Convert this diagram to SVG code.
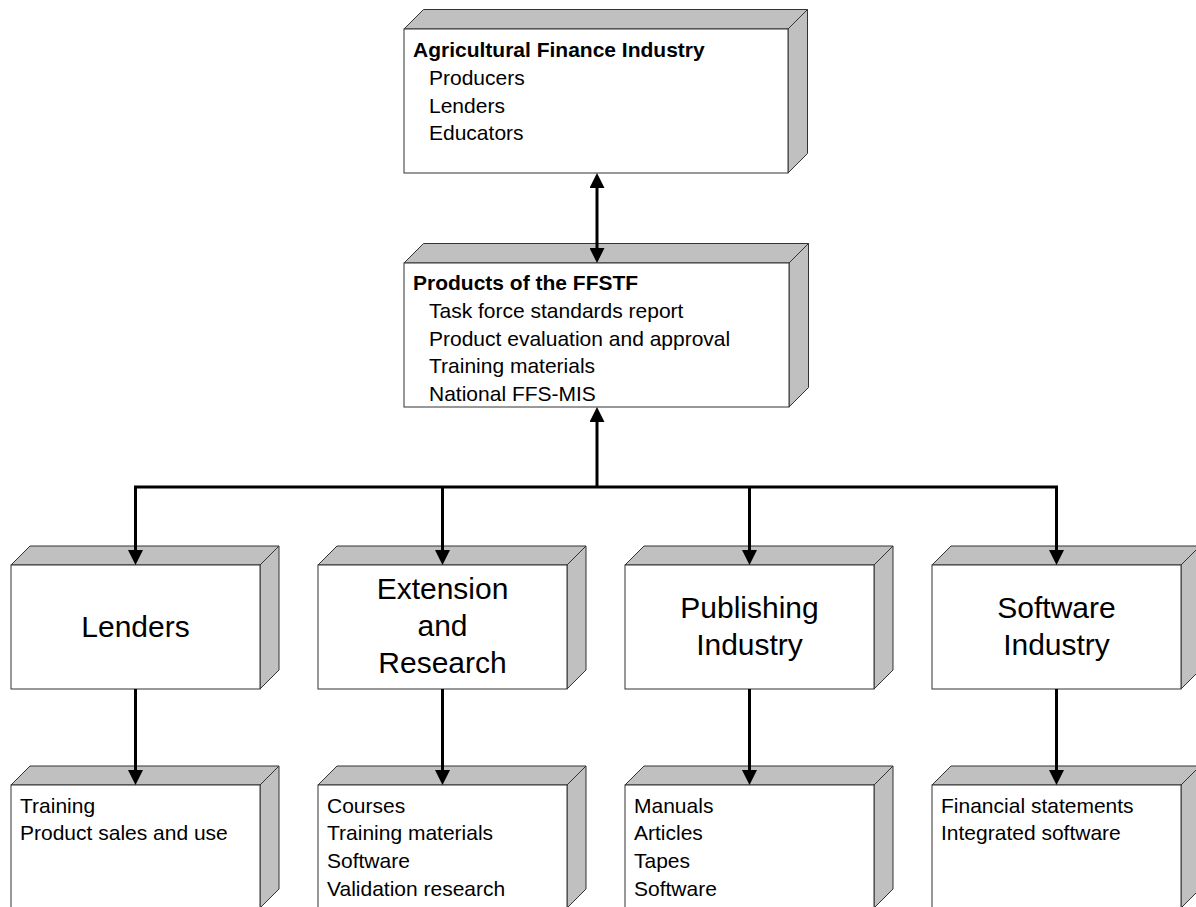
<svg xmlns="http://www.w3.org/2000/svg" width="1196" height="907" viewBox="0 0 1196 907">
<defs>
<style>
.face{fill:#ffffff;stroke:#333333;stroke-width:1}
.side{fill:#c0c0c0;stroke:#333333;stroke-width:1;stroke-linejoin:miter}
.t{font-family:"Liberation Sans",Arial,sans-serif;font-size:21px;fill:#000}
.b{font-weight:bold}
.big{font-family:"Liberation Sans",Arial,sans-serif;font-size:30px;fill:#000;text-anchor:middle}
.con{fill:none;stroke:#000;stroke-width:3}
</style>
<marker id="ah" viewBox="0 0 15 15" refX="5" refY="7.5" markerWidth="15" markerHeight="15" markerUnits="userSpaceOnUse" orient="auto-start-reverse">
<path d="M0,0 L15,7.5 L0,15 z" fill="#000"/>
</marker>
</defs>
<rect width="1196" height="907" fill="#fff"/>

<g id="agri">
<polygon class="side" points="404,29 423.5,9.5 807.5,9.5 788,29"/>
<polygon class="side" points="788,29 807.5,9.5 807.5,153.5 788,173"/>
<rect class="face" x="404" y="29" width="384" height="144"/>
<text class="t b" x="413" y="57">Agricultural Finance Industry</text>
<text class="t" x="429" y="85">Producers</text>
<text class="t" x="429" y="112.5">Lenders</text>
<text class="t" x="429" y="140">Educators</text>
</g>

<g id="ffstf">
<polygon class="side" points="404,263 423.5,243.5 808.5,243.5 789,263"/>
<polygon class="side" points="789,263 808.5,243.5 808.5,387.5 789,407"/>
<rect class="face" x="404" y="263" width="385" height="144"/>
<text class="t b" x="413" y="290">Products of the FFSTF</text>
<text class="t" x="429" y="318">Task force standards report</text>
<text class="t" x="429" y="346">Product evaluation and approval</text>
<text class="t" x="429" y="373">Training materials</text>
<text class="t" x="429" y="401">National FFS-MIS</text>
</g>

<g id="lenders">
<polygon class="side" points="11,565 30,546 279,546 260,565"/>
<polygon class="side" points="260,565 279,546 279,670 260,689"/>
<rect class="face" x="11" y="565" width="249" height="124"/>
<text class="big" x="135.5" y="637">Lenders</text>
</g>

<g id="extension">
<polygon class="side" points="318,565 337,546 586,546 567,565"/>
<polygon class="side" points="567,565 586,546 586,670 567,689"/>
<rect class="face" x="318" y="565" width="249" height="124"/>
<text class="big" x="442.5" y="599">Extension</text>
<text class="big" x="442.5" y="636">and</text>
<text class="big" x="442.5" y="673">Research</text>
</g>

<g id="publishing">
<polygon class="side" points="625,565 644,546 893,546 874,565"/>
<polygon class="side" points="874,565 893,546 893,670 874,689"/>
<rect class="face" x="625" y="565" width="249" height="124"/>
<text class="big" x="749.5" y="618">Publishing</text>
<text class="big" x="749.5" y="655">Industry</text>
</g>

<g id="software">
<polygon class="side" points="932,565 951,546 1200,546 1181,565"/>
<polygon class="side" points="1181,565 1200,546 1200,670 1181,689"/>
<rect class="face" x="932" y="565" width="249" height="124"/>
<text class="big" x="1056.5" y="618">Software</text>
<text class="big" x="1056.5" y="655">Industry</text>
</g>

<g id="lenders-out">
<polygon class="side" points="11,785 30,766 279,766 260,785"/>
<polygon class="side" points="260,785 279,766 279,889 260,908"/>
<rect class="face" x="11" y="785" width="249" height="123"/>
<text class="t" x="20" y="813">Training</text>
<text class="t" x="20" y="840">Product sales and use</text>
</g>

<g id="extension-out">
<polygon class="side" points="318,785 337,766 586,766 567,785"/>
<polygon class="side" points="567,785 586,766 586,889 567,908"/>
<rect class="face" x="318" y="785" width="249" height="123"/>
<text class="t" x="327" y="813">Courses</text>
<text class="t" x="327" y="840">Training materials</text>
<text class="t" x="327" y="868">Software</text>
<text class="t" x="327" y="896">Validation research</text>
</g>

<g id="publishing-out">
<polygon class="side" points="625,785 644,766 893,766 874,785"/>
<polygon class="side" points="874,785 893,766 893,889 874,908"/>
<rect class="face" x="625" y="785" width="249" height="123"/>
<text class="t" x="634" y="813">Manuals</text>
<text class="t" x="634" y="840">Articles</text>
<text class="t" x="634" y="868">Tapes</text>
<text class="t" x="634" y="896">Software</text>
</g>

<g id="software-out">
<polygon class="side" points="932,785 951,766 1200,766 1181,785"/>
<polygon class="side" points="1181,785 1200,766 1200,889 1181,908"/>
<rect class="face" x="932" y="785" width="249" height="123"/>
<text class="t" x="941" y="813">Financial statements</text>
<text class="t" x="941" y="840">Integrated software</text>
</g>

<g id="connectors">
<line class="con" x1="597" y1="183" x2="597" y2="253" marker-start="url(#ah)" marker-end="url(#ah)"/>
<line class="con" x1="597" y1="487" x2="597" y2="417" marker-end="url(#ah)"/>
<path class="con" d="M135.5,555 V487 H1056.5 V555" marker-start="url(#ah)" marker-end="url(#ah)"/>
<line class="con" x1="442.5" y1="487" x2="442.5" y2="555" marker-end="url(#ah)"/>
<line class="con" x1="749.5" y1="487" x2="749.5" y2="555" marker-end="url(#ah)"/>
<line class="con" x1="135.5" y1="689" x2="135.5" y2="775" marker-end="url(#ah)"/>
<line class="con" x1="442.5" y1="689" x2="442.5" y2="775" marker-end="url(#ah)"/>
<line class="con" x1="749.5" y1="689" x2="749.5" y2="775" marker-end="url(#ah)"/>
<line class="con" x1="1056.5" y1="689" x2="1056.5" y2="775" marker-end="url(#ah)"/>
</g>
</svg>
